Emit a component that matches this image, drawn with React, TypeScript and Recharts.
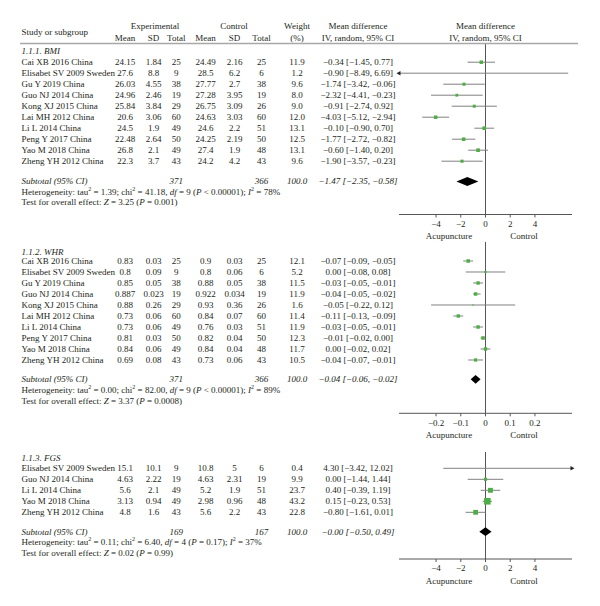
import React from 'react';
import { ComposedChart, XAxis, YAxis, Scatter, ReferenceLine } from 'recharts';

// ---------------- DATA ----------------
const bmiStudies = ['Cai XB 2016 China', 'Elisabet SV 2009 Sweden', 'Gu Y 2019 China', 'Guo NJ 2014 China', 'Kong XJ 2015 China', 'Lai MH 2012 China', 'Li L 2014 China', 'Peng Y 2017 China', 'Yao M 2018 China', 'Zheng YH 2012 China'];
const bmiExpMean = ['24.15', '27.6', '26.03', '24.96', '25.84', '20.6', '24.5', '22.48', '26.8', '22.3'];
const bmiExpSD = ['1.84', '8.8', '4.55', '2.46', '3.84', '3.06', '1.9', '2.64', '2.1', '3.7'];
const bmiExpN = [25, 9, 38, 19, 29, 60, 49, 50, 49, 43];
const bmiCtlMean = ['24.49', '28.5', '27.77', '27.28', '26.75', '24.63', '24.6', '24.25', '27.4', '24.2'];
const bmiCtlSD = ['2.16', '6.2', '2.7', '3.95', '3.09', '3.03', '2.2', '2.19', '1.9', '4.2'];
const bmiCtlN = [25, 6, 38, 19, 26, 60, 51, 50, 48, 43];
const bmiWeight = [11.9, 1.2, 9.6, 8.0, 9.0, 12.0, 13.1, 12.5, 13.1, 9.6];
const bmiMD = [-0.34, -0.9, -1.74, -2.32, -0.91, -4.03, -0.1, -1.77, -0.6, -1.9];
const bmiLo = [-1.45, -8.49, -3.42, -4.41, -2.74, -5.12, -0.9, -2.72, -1.4, -3.57];
const bmiHi = [0.77, 6.69, -0.06, -0.23, 0.92, -2.94, 0.7, -0.82, 0.2, -0.23];
const bmiTotal = { expN: 371, ctlN: 366, weight: 100.0, md: -1.47, lo: -2.35, hi: -0.58 };
const bmiHet = { tau2: '1.39', chi2: '41.18', df: '9', p: '< 0.00001', i2: '78%', z: '3.25', pz: '= 0.001' };

const whrStudies = ['Cai XB 2016 China', 'Elisabet SV 2009 Sweden', 'Gu Y 2019 China', 'Guo NJ 2014 China', 'Kong XJ 2015 China', 'Lai MH 2012 China', 'Li L 2014 China', 'Peng Y 2017 China', 'Yao M 2018 China', 'Zheng YH 2012 China'];
const whrExpMean = ['0.83', '0.8', '0.85', '0.887', '0.88', '0.73', '0.73', '0.81', '0.84', '0.69'];
const whrExpSD = ['0.03', '0.09', '0.05', '0.023', '0.26', '0.06', '0.06', '0.03', '0.06', '0.08'];
const whrExpN = [25, 9, 38, 19, 29, 60, 49, 50, 49, 43];
const whrCtlMean = ['0.9', '0.8', '0.88', '0.922', '0.93', '0.84', '0.76', '0.82', '0.84', '0.73'];
const whrCtlSD = ['0.03', '0.06', '0.05', '0.034', '0.36', '0.07', '0.03', '0.04', '0.04', '0.06'];
const whrCtlN = [25, 6, 38, 19, 26, 60, 51, 50, 48, 43];
const whrWeight = [12.1, 5.2, 11.5, 11.9, 1.6, 11.4, 11.9, 12.3, 11.7, 10.5];
const whrMD = [-0.07, 0.0, -0.03, -0.04, -0.05, -0.11, -0.03, -0.01, 0.0, -0.04];
const whrLo = [-0.09, -0.08, -0.05, -0.05, -0.22, -0.13, -0.05, -0.02, -0.02, -0.07];
const whrHi = [-0.05, 0.08, -0.01, -0.02, 0.12, -0.09, -0.01, 0.0, 0.02, -0.01];
const whrTotal = { expN: 371, ctlN: 366, weight: 100.0, md: -0.04, lo: -0.06, hi: -0.02 };
const whrHet = { tau2: '0.00', chi2: '82.00', df: '9', p: '< 0.00001', i2: '89%', z: '3.37', pz: '= 0.0008' };

const fgsStudies = ['Elisabet SV 2009 Sweden', 'Guo NJ 2014 China', 'Li L 2014 China', 'Yao M 2018 China', 'Zheng YH 2012 China'];
const fgsExpMean = ['15.1', '4.63', '5.6', '3.13', '4.8'];
const fgsExpSD = ['10.1', '2.22', '2.1', '0.94', '1.6'];
const fgsExpN = [9, 19, 49, 49, 43];
const fgsCtlMean = ['10.8', '4.63', '5.2', '2.98', '5.6'];
const fgsCtlSD = ['5', '2.31', '1.9', '0.96', '2.2'];
const fgsCtlN = [6, 19, 51, 48, 43];
const fgsWeight = [0.4, 9.9, 23.7, 43.2, 22.8];
const fgsMD = [4.3, 0.0, 0.4, 0.15, -0.8];
const fgsLo = [-3.42, -1.44, -0.39, -0.23, -1.61];
const fgsHi = [12.02, 1.44, 1.19, 0.53, 0.01];
const fgsTotal = { expN: 169, ctlN: 167, weight: 100.0, md: -0.004, lo: -0.5, hi: 0.49 };
const fgsHet = { tau2: '0.11', chi2: '6.40', df: '4', p: '= 0.17', i2: '37%', z: '0.02', pz: '= 0.99' };

const wideTicks = [-4, -2, 0, 2, 4];
const narrowTicks = [-0.2, -0.1, 0, 0.1, 0.2];

// ---------------- STYLE / LAYOUT ----------------
const FONT = '"Liberation Serif", "Times New Roman", serif';
const FS = 9;
const TEXT = '#231f20';
const GREEN = '#4cae44';
const GREY = '#808080';
const AXIS = '#555555';
const ROW_H = 11;
const PLOT_LEFT = 399;
const PLOT_RIGHT = 572;
const COL = { study: 21.5, em: 125, esd: 153.5, en: 176.3, cm: 205.5, csd: 234.5, cn: 261.5, w: 297, md: 358, plot: 485.5 };

const sections = [
  {
    title: '1.1.1. BMI', names: bmiStudies, expMean: bmiExpMean, expSD: bmiExpSD, expN: bmiExpN,
    ctlMean: bmiCtlMean, ctlSD: bmiCtlSD, ctlN: bmiCtlN, weight: bmiWeight, md: bmiMD, lo: bmiLo, hi: bmiHi,
    total: bmiTotal, het: bmiHet, domain: [-7, 7], ticks: wideTicks,
    headerY: 50.7, firstRowY: 61.7, subtotalY: 181, plotTop: 43.5, plotBottom: 214,
  },
  {
    title: '1.1.2. WHR', names: whrStudies, expMean: whrExpMean, expSD: whrExpSD, expN: whrExpN,
    ctlMean: whrCtlMean, ctlSD: whrCtlSD, ctlN: whrCtlN, weight: whrWeight, md: whrMD, lo: whrLo, hi: whrHi,
    total: whrTotal, het: whrHet, domain: [-0.35, 0.35], ticks: narrowTicks,
    headerY: 251.5, firstRowY: 261, subtotalY: 379.3, plotTop: 242, plotBottom: 413.3,
  },
  {
    title: '1.1.3. FGS', names: fgsStudies, expMean: fgsExpMean, expSD: fgsExpSD, expN: fgsExpN,
    ctlMean: fgsCtlMean, ctlSD: fgsCtlSD, ctlN: fgsCtlN, weight: fgsWeight, md: fgsMD, lo: fgsLo, hi: fgsHi,
    total: fgsTotal, het: fgsHet, domain: [-7, 7], ticks: wideTicks,
    headerY: 458, firstRowY: 468.3, subtotalY: 531.7, plotTop: 452, plotBottom: 559,
  },
];

const f2 = (v: number) => v.toFixed(2).replace('-', '\u2212');
const fci = (m: number, lo: number, hi: number) => `${f2(m)} [${f2(lo)}, ${f2(hi)}]`;
const fmtTick = (v: number) => (v === 0 ? '0' : String(v).replace('-', '\u2212'));

// ---------------- SHAPES ----------------
const SquareShape = (p: any) => {
  const s = 1.0 * Math.sqrt(p.payload.w);
  if (s < 1.2) return <g />;
  return <rect x={p.cx - s / 2} y={p.cy - s / 2} width={s} height={s} fill={GREEN} />;
};
const ArrowShape = (p: any) => {
  const d = p.payload.dir;
  const tip = p.cx + d * 2.5;
  const base = p.cx - d * 1.5;
  return <polygon points={`${tip},${p.cy} ${base},${p.cy - 2.2} ${base},${p.cy + 2.2}`} fill="#222" />;
};
const Empty = () => <g />;
const DiamondLine = (p: any) => {
  const pts = p.points || [];
  if (pts.length < 4) return <g />;
  return <polygon points={pts.map((q: any) => `${q.x},${q.y}`).join(' ')} fill="#000" stroke="none" />;
};

// ---------------- FOREST CHART ----------------
function Forest({ s }: { s: any }) {
  const chartTop = s.plotTop - 4;
  const axisH = 22;
  const plotH = s.plotBottom - s.plotTop;
  const height = 4 + plotH + axisH + 4;
  const margin = { top: 4, left: PLOT_LEFT, right: 600 - PLOT_RIGHT, bottom: 4 };
  const d0 = -(s.firstRowY - s.plotTop) / ROW_H;
  const d1 = d0 + plotH / ROW_H;
  const [xmin, xmax] = s.domain;
  const clip = (v: number) => Math.max(xmin, Math.min(xmax, v));
  const sq = s.md.map((m: number, i: number) => ({ x: m, y: i, w: s.weight[i] }));
  const arrows: any[] = [];
  s.lo.forEach((v: number, i: number) => { if (v < xmin) arrows.push({ x: xmin, y: i, dir: -1 }); });
  s.hi.forEach((v: number, i: number) => { if (v > xmax) arrows.push({ x: xmax, y: i, dir: 1 }); });
  const ys = (s.subtotalY - s.firstRowY) / ROW_H;
  const dh = 4.4 / ROW_H;
  const t = s.total;
  const dia = [
    { x: t.lo, y: ys }, { x: t.md, y: ys - dh }, { x: t.hi, y: ys }, { x: t.md, y: ys + dh },
  ];
  return (
    <div style={{ position: 'absolute', left: 0, top: chartTop }}>
      <ComposedChart width={600} height={height} margin={margin}>
        <XAxis type="number" dataKey="x" domain={s.domain} ticks={s.ticks} interval={0}
          tickFormatter={fmtTick} height={axisH} stroke={AXIS} tickSize={3} tickMargin={3}
          tick={{ fontSize: FS, fontFamily: FONT, fill: TEXT }} />
        <YAxis type="number" dataKey="y" domain={[d0, d1]} reversed hide width={0} />
        <ReferenceLine x={0} stroke={AXIS} strokeWidth={1} />
        {s.lo.map((v: number, i: number) => (
          <ReferenceLine key={i} segment={[{ x: clip(v), y: i }, { x: clip(s.hi[i]), y: i }]} stroke={GREY} strokeWidth={1} />
        ))}
        <Scatter data={sq} isAnimationActive={false} shape={SquareShape} />
        <Scatter data={arrows} isAnimationActive={false} shape={ArrowShape} />
        <Scatter data={dia} isAnimationActive={false} shape={Empty} line={DiamondLine} lineType="joint" />
      </ComposedChart>
    </div>
  );
}

// ---------------- TEXT ----------------
const T = ({ x, y, anchor = 'start', italic = false, children }: any) => (
  <text x={x} y={y} textAnchor={anchor} dominantBaseline="central" fontStyle={italic ? 'italic' : 'normal'}>{children}</text>
);

function SectionText({ s }: { s: any }) {
  const t = s.total;
  const h = s.het;
  const hy = s.subtotalY + 10.7;
  const ty = s.subtotalY + 21.3;
  const axisY = s.plotBottom;
  return (
    <g>
      <T x={COL.study} y={s.headerY} italic>{s.title}</T>
      {s.names.map((nm: string, i: number) => {
        const y = s.firstRowY + i * ROW_H;
        return (
          <g key={i}>
            <T x={COL.study} y={y}>{nm}</T>
            <T x={COL.em} y={y} anchor="middle">{s.expMean[i]}</T>
            <T x={COL.esd} y={y} anchor="middle">{s.expSD[i]}</T>
            <T x={COL.en} y={y} anchor="middle">{s.expN[i]}</T>
            <T x={COL.cm} y={y} anchor="middle">{s.ctlMean[i]}</T>
            <T x={COL.csd} y={y} anchor="middle">{s.ctlSD[i]}</T>
            <T x={COL.cn} y={y} anchor="middle">{s.ctlN[i]}</T>
            <T x={COL.w} y={y} anchor="middle">{s.weight[i].toFixed(1)}</T>
            <T x={COL.md} y={y} anchor="middle">{fci(s.md[i], s.lo[i], s.hi[i])}</T>
          </g>
        );
      })}
      <T x={COL.study} y={s.subtotalY} italic>Subtotal (95% CI)</T>
      <T x={COL.en} y={s.subtotalY} anchor="middle" italic>{t.expN}</T>
      <T x={COL.cn} y={s.subtotalY} anchor="middle" italic>{t.ctlN}</T>
      <T x={COL.w} y={s.subtotalY} anchor="middle" italic>{t.weight.toFixed(1)}</T>
      <T x={COL.md} y={s.subtotalY} anchor="middle" italic>{fci(t.md, t.lo, t.hi)}</T>
      <text x={COL.study} y={hy} dominantBaseline="central">
        Heterogeneity: tau<tspan dy={-3} fontSize={6}>2</tspan><tspan dy={3}>{` = ${h.tau2}; chi`}</tspan>
        <tspan dy={-3} fontSize={6}>2</tspan><tspan dy={3}>{` = ${h.chi2}, `}</tspan>
        <tspan fontStyle="italic">df</tspan>{` = ${h.df} (`}<tspan fontStyle="italic">P</tspan>{` ${h.p}); `}
        <tspan fontStyle="italic">I</tspan><tspan dy={-3} fontSize={6}>2</tspan><tspan dy={3}>{` = ${h.i2}`}</tspan>
      </text>
      <text x={COL.study} y={ty} dominantBaseline="central">
        {'Test for overall effect: '}<tspan fontStyle="italic">Z</tspan>{` = ${h.z} (`}<tspan fontStyle="italic">P</tspan>{` ${h.pz})`}
      </text>
      <T x={449} y={axisY + 22} anchor="middle">Acupuncture</T>
      <T x={524} y={axisY + 22} anchor="middle">Control</T>
    </g>
  );
}

export default function App() {
  return (
    <div style={{ position: 'absolute', left: 0, top: 0, width: 600, height: 606, background: '#fff', overflow: 'hidden' }}>
      {sections.map((s, i) => <Forest key={i} s={s} />)}
      <svg width={600} height={606} style={{ position: 'absolute', left: 0, top: 0, pointerEvents: 'none' }}
        fontFamily={FONT} fontSize={FS} fill={TEXT}>
        <T x={COL.study} y={32}>Study or subgroup</T>
        <T x={155} y={26} anchor="middle">Experimental</T>
        <T x={234} y={26} anchor="middle">Control</T>
        <T x={COL.em} y={38} anchor="middle">Mean</T>
        <T x={COL.esd} y={38} anchor="middle">SD</T>
        <T x={COL.en} y={38} anchor="middle">Total</T>
        <T x={COL.cm} y={38} anchor="middle">Mean</T>
        <T x={COL.csd} y={38} anchor="middle">SD</T>
        <T x={COL.cn} y={38} anchor="middle">Total</T>
        <T x={COL.w} y={26} anchor="middle">Weight</T>
        <T x={COL.w} y={38} anchor="middle">(%)</T>
        <T x={COL.md} y={26} anchor="middle">Mean difference</T>
        <T x={COL.md} y={38} anchor="middle">IV, random, 95% CI</T>
        <T x={COL.plot} y={26} anchor="middle">Mean difference</T>
        <T x={COL.plot} y={38} anchor="middle">IV, random, 95% CI</T>
        <line x1={20} x2={578} y1={43.5} y2={43.5} stroke="#a8a8a8" strokeWidth={1.6} />
        {sections.map((s, i) => <SectionText key={i} s={s} />)}
      </svg>
    </div>
  );
}
